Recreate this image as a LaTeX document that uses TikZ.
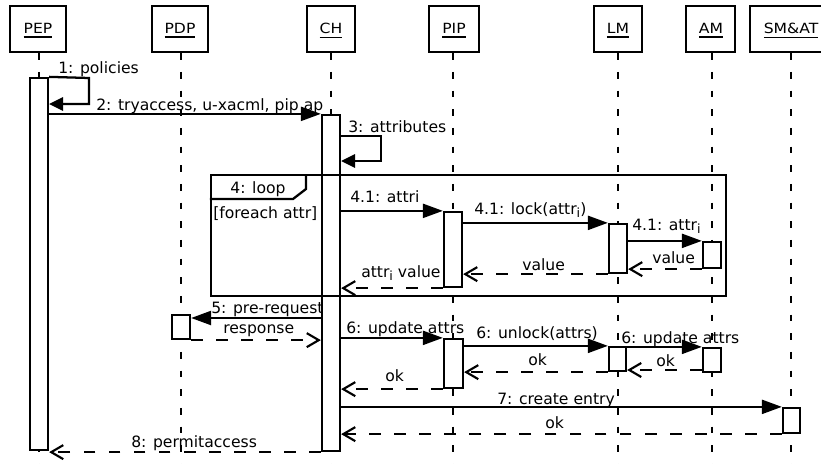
\documentclass[tikz,border=0pt]{standalone}
\usepackage{fontspec}
\setmainfont{DejaVu Sans}
\usetikzlibrary{arrows.meta,fit}
\newcommand\mysub[1]{\raisebox{-0.4ex}{\fontsize{9.5}{10}\selectfont #1}}
\newcommand\hdrtext[1]{\setbox0\hbox{\scalebox{1}[0.9]{#1}}\vtop{\copy0\kern2.6pt\hrule width\wd0 height 1pt}}
\begin{document}
\begin{tikzpicture}[x=0.75pt,y=-0.75pt,
  font=\fontsize{11.7}{14}\selectfont,
  hdr/.style={draw, line width=1.8pt, fill=white, inner sep=0pt},
  htxt/.style={anchor=base, inner sep=0pt},
  life/.style={line width=1pt, dash pattern=on 5.2pt off 8.8pt},
  bar/.style={draw, line width=1.7pt, fill=white, inner sep=0pt},
  framebox/.style={draw, line width=1.7pt, inner sep=0pt},
  msg/.style={line width=1.7pt, -{Triangle[length=15pt,width=10.5pt]}},
  selfmsg/.style={line width=1.7pt, -{Triangle[length=10.5pt,width=10pt]}},
  ret/.style={line width=1.6pt, dash pattern=on 8.8pt off 10pt,
    -{Straight Barb[length=9pt,width=10.5pt,line width=1.6pt]}},
  lbl/.style={anchor=base west, inner sep=0pt},
]
\useasboundingbox (0,0) rectangle (821,464);
\clip (0,0) rectangle (821,464);
\fill[white] (0,0) rectangle (821,464);

% headers
\node[hdr, fit={(10,6)(66,52)}] (pep) {};
\node[hdr, fit={(152,6)(208,52)}] (pdp) {};
\node[hdr, fit={(307,6)(355,52)}] (ch) {};
\node[hdr, fit={(429,6)(479,52)}] (pip) {};
\node[hdr, fit={(594,6)(642,52)}] (lm) {};
\node[hdr, fit={(686,6)(735,52)}] (am) {};
\node[hdr, fit={(750,6)(832,52)}] (sm) {};
\node[htxt] (tpep) at (38,33) {\hdrtext{PEP}};
\node[htxt] (tpdp) at (180,33) {\hdrtext{PDP}};
\node[htxt] (tch) at (331,33) {\hdrtext{CH}};
\node[htxt] (tpip) at (454,33) {\hdrtext{PIP}};
\node[htxt] (tlm) at (618,33) {\hdrtext{LM}};
\node[htxt] (tam) at (711,33) {\hdrtext{AM}};
\node[htxt] (tsm) at (791,33) {\hdrtext{SM\&AT}};

% lifeline ends
\coordinate (epep) at (39,464);
\coordinate (epdp) at (181,464);
\coordinate (ech) at (331,464);
\coordinate (epip) at (453,464);
\coordinate (elm) at (618,464);
\coordinate (eam) at (712,464);
\coordinate (esm) at (791,464);
\draw[life] (epep |- pep.south) -- (epep);
\draw[life] (epdp |- pdp.south) -- (epdp);
\draw[life] (ech |- ch.south) -- (ech);
\draw[life] (epip |- pip.south) -- (epip);
\draw[life] (elm |- lm.south) -- (elm);
\draw[life] (eam |- am.south) -- (eam);
\draw[life] (esm |- sm.south) -- (esm);

% activation bars
\node[bar, fit={(30,78)(48,450)}] (pepbar) {};
\node[bar, fit={(322,115)(340,451)}] (chbar) {};
\node[bar, fit={(444,212)(462,287)}] (pipbarA) {};
\node[bar, fit={(609,224)(627,273)}] (lmbarA) {};
\node[bar, fit={(703,242)(721,268)}] (ambarA) {};
\node[bar, fit={(172,315)(190,339)}] (pdpbar) {};
\node[bar, fit={(444,339)(463,388)}] (pipbarB) {};
\node[bar, fit={(609,347)(626,371)}] (lmbarB) {};
\node[bar, fit={(703,348)(721,372)}] (ambarB) {};
\node[bar, fit={(783,408)(800,433)}] (smbar) {};

% loop frame
\node[framebox, fit={(211,175)(726,296)}] (loop) {};
\draw[line width=1.7pt] (loop.north west |- 0,199) -- (293,199) -- (306,189) -- (306,175);

% messages
\draw[selfmsg] (pepbar.north east) -- (89,78) -- (89,104) -- (pepbar.east |- 0,104);
\draw[msg] (pepbar.east |- chbar.north) -- (chbar.north west);
\draw[selfmsg] (chbar.east |- 0,136) -- (381,136) -- (381,161) -- (chbar.east |- 0,161);
\draw[msg] (chbar.east |- pipbarA.north) -- (pipbarA.north west);
\draw[msg] (pipbarA.east |- lmbarA.north) -- (lmbarA.north west);
\draw[msg] (lmbarA.east |- ambarA.north) -- (ambarA.north west);
\draw[ret] (ambarA.south west) -- (lmbarA.east |- ambarA.south);
\draw[ret] (lmbarA.south west) -- (pipbarA.east |- lmbarA.south);
\draw[ret] (pipbarA.south west) -- (chbar.east |- pipbarA.south);
\draw[msg] (chbar.west |- 0,318) -- (pdpbar.east |- 0,318);
\draw[ret] (pdpbar.south east) -- (chbar.west |- pdpbar.south);
\draw[msg] (chbar.east |- pipbarB.north) -- (pipbarB.north west);
\draw[msg] (pipbarB.east |- lmbarB.north) -- (lmbarB.north west);
\draw[msg] (lmbarB.east |- ambarB.north) -- (ambarB.north west);
\draw[ret] (ambarB.west |- 0,370) -- (lmbarB.east |- 0,370);
\draw[ret] (lmbarB.south west) -- (pipbarB.east |- lmbarB.south);
\draw[ret] (pipbarB.south west) -- (chbar.east |- pipbarB.south);
\draw[msg] (chbar.east |- smbar.north) -- (smbar.north west);
\draw[ret] (smbar.south west) -- (chbar.east |- smbar.south);
\draw[ret] (chbar.south west) -- (pepbar.east |- chbar.south);

% labels
\node[lbl] (l1) at (58,73) {1: policies};
\node[lbl] (l2) at (96,110) {2: tryaccess, u-xacml, pip ap};
\node[lbl] (l3) at (348,132) {3: attributes};
\node[anchor=base, inner sep=0pt] (l4) at (258,193) {4: loop};
\node[lbl] (lg) at (213,218) {[foreach attr]};
\node[lbl] (l41a) at (350,202) {4.1: attri};
\node[lbl] (l41b) at (474,214) {4.1: lock(attr\mysub{i})};
\node[lbl] (l41c) at (632,230) {4.1: attr\mysub{i}};
\node[lbl] (lv1) at (652,263) {value};
\node[lbl] (lv2) at (522,270) {value};
\node[lbl] (lv3) at (361,277) {attr\mysub{i} value};
\node[lbl] (l5) at (211,313) {5: pre-request};
\node[lbl] (lr) at (223,333) {response};
\node[lbl] (l6a) at (346,333) {6: update attrs};
\node[lbl] (l6b) at (476,338) {6: unlock(attrs)};
\node[lbl] (l6c) at (621,343) {6: update attrs};
\node[lbl] (lok1) at (656,366) {ok};
\node[lbl] (lok2) at (528,365) {ok};
\node[lbl] (lok3) at (385,381) {ok};
\node[lbl] (l7) at (497,404) {7: create entry};
\node[lbl] (lok4) at (545,428) {ok};
\node[lbl] (l8) at (131,447) {8: permitaccess};
\end{tikzpicture}
\end{document}
